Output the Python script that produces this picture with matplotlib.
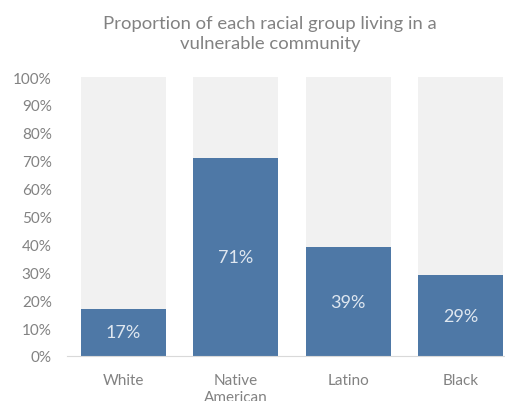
import numpy as np
import matplotlib.pyplot as plt
from matplotlib.ticker import PercentFormatter

plt.rcParams['font.family'] = ['Lato', 'DejaVu Sans']

groups = ['White', 'Native\nAmerican', 'Latino', 'Black']
share = [17, 71, 39, 29]
total = [100, 100, 100, 100]

blue = '#4e78a6'
grey_bg = '#f1f1f1'
text_grey = '#828282'

fig = plt.figure(figsize=(5.05, 4.02), dpi=100)
ax = fig.add_axes([67 / 505, (402 - 357) / 402, (505 - 67) / 505, 279 / 402])

x = np.arange(len(groups))
ax.bar(x, total, width=0.755, color=grey_bg, zorder=1)
ax.bar(x, share, width=0.755, color=blue, zorder=2)

# value labels sit in the middle of each blue segment
for xi, v in zip(x, share):
    ax.text(xi, v / 2, f'{v}%', ha='center', va='center', color='#dfe7f0',
            fontsize=13, zorder=3)

ax.set_xlim(-0.5, 3 + (505 - 460.5) / 112.5)
ax.set_ylim(0, 100)
ax.set_yticks(np.arange(0, 101, 10))
ax.yaxis.set_major_formatter(PercentFormatter(decimals=0))
ax.set_xticks(x)
ax.set_xticklabels(groups, linespacing=1.3)

for s in ['top', 'right', 'left']:
    ax.spines[s].set_visible(False)
ax.spines['bottom'].set_color('#d9d9d9')
ax.tick_params(axis='both', length=0, colors=text_grey, labelsize=11)
ax.tick_params(axis='y', pad=11)
ax.tick_params(axis='x', pad=12)

fig.text(0.535, 1 - 34 / 402, 'Proportion of each racial group living in a\nvulnerable community',
         ha='center', va='center', fontsize=13.3, color=text_grey, linespacing=1.25)

fig.savefig('out.png', dpi=100)
